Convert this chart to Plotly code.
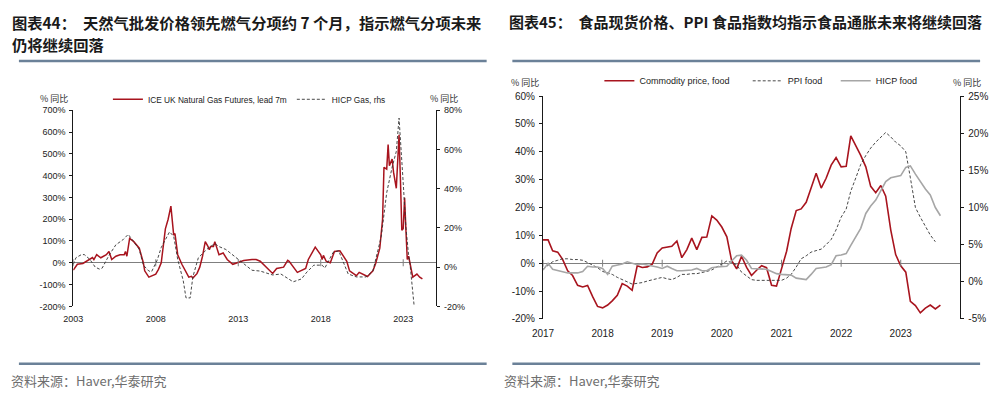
import plotly.graph_objects as go
import pandas as pd

# ---------------- Left panel data (Chart 44) ----------------
gas_fut_dates = ["2003-01","2003-04","2003-08","2004-01","2004-03","2004-04","2004-06","2004-09","2005-01","2005-03",
                 "2005-05","2005-08","2005-11","2006-02","2006-03","2006-04","2006-06","2006-09","2007-01","2007-04",
                 "2007-05","2007-08","2008-01","2008-03","2008-05","2008-08","2008-10","2008-12","2009-02","2009-03",
                 "2009-05","2009-08","2010-01","2010-03","2010-04","2010-07","2010-09","2010-11","2011-01","2011-03",
                 "2011-04","2011-05","2011-07","2011-08","2011-11","2012-02","2012-05","2012-09","2013-01","2013-05",
                 "2013-11","2014-02","2014-05","2015-02","2015-05","2015-10","2016-01","2016-02","2016-08","2017-02",
                 "2017-04","2017-09","2018-01","2018-02","2018-03","2018-05","2018-08","2018-11","2019-03","2019-08",
                 "2019-10","2020-03","2020-05","2020-08","2020-11","2021-03","2021-05","2021-08","2021-10","2021-11",
                 "2022-01","2022-02","2022-03","2022-05","2022-06","2022-08","2022-10","2022-11","2022-12","2023-01",
                 "2023-02","2023-03","2023-04","2023-05","2023-06","2023-08","2023-11","2024-01","2024-03"]
gas_fut_vals = [-34,-7,-3,15,24,15,37,23,37,52,
                15,30,37,37,52,30,112,97,67,0,
                -37,-66,-52,-30,0,156,200,260,127,134,
                37,-7,-66,-62,-70,-50,-20,30,97,75,
                60,75,75,97,37,45,15,-7,0,10,
                15,15,7,-49,-26,-20,11,7,-44,-26,
                15,72,37,15,34,7,0,52,55,7,
                -37,-59,-44,-52,-63,-37,-3,67,200,438,
                430,543,446,476,416,342,587,380,149,156,
                298,156,15,30,-7,-66,-52,-66,-74]

hicp_gas_dates = ["2003-01","2003-03","2003-07","2003-09","2004-01","2004-05","2004-08","2004-10","2005-03","2005-08",
                  "2006-01","2006-05","2006-09","2007-01","2007-04","2007-08","2007-10","2008-02","2008-05","2008-09",
                  "2008-11","2009-02","2009-05","2009-09","2009-11","2010-02","2010-04","2010-08","2011-01","2011-03",
                  "2011-08","2011-11","2012-04","2012-11","2013-06","2013-11","2014-05","2015-02","2015-08","2016-05",
                  "2016-11","2017-03","2017-08","2018-02","2018-04","2018-10","2019-02","2019-05","2019-09","2020-03",
                  "2020-10","2021-03","2021-06","2021-09","2022-01","2022-05","2022-08","2022-10","2023-01","2023-03",
                  "2023-05","2023-06","2023-09"]
hicp_gas_vals = [1.4,4.8,6.4,6.4,4.0,0.0,-1.0,-0.5,6.0,11.4,
                 13.9,16.7,13.0,9.0,1.0,-2.0,-2.3,3.5,10.0,15.7,
                 18.0,15.7,4.0,-7.0,-15.7,-15.7,-5.0,4.8,8.0,9.6,
                 12.0,10.5,9.0,5.0,0.8,-1.6,-2.0,-4.0,-3.5,-7.5,
                 -6.0,-2.5,1.0,1.0,-0.5,7.5,8.4,3.0,-3.5,-5.0,
                 -5.0,-2.0,7.5,15.5,38.0,51.0,59.0,76.0,43.0,20.5,
                 6.0,1.5,-20.0]

left_xticks = ["2003", "2008", "2013", "2018", "2023"]
left_yticks = [-200, -100, 0, 100, 200, 300, 400, 500, 600, 700]
left_y2ticks = [-20, 0, 20, 40, 60, 80]

# ---------------- Right panel data (Chart 45) ----------------
food_start = "2017-01-01"
commodity_food = [8.4, 8.4, 4.5, 4.0, 1.4, -2.7, -4.4, -7.9, -8.5, -8.0, -12.0, -15.5,
                  -16.0, -15.0, -13.5, -11.5, -7.3, -8.2, -9.7, -0.9, -1.5, -1.3, -0.3, 3.7,
                  5.5, 5.8, 6.1, 8.0, 2.0, 4.9, 9.0, 4.9, 9.3, 9.4, 17.0, 15.5,
                  13.0, 9.5, 1.0, -2.0, 2.5, -1.5, -4.4, -2.5, -0.9, -1.6, -7.9, -8.2,
                  -1.5, 4.3, 12.5, 18.9, 19.5, 21.9, 27.0, 32.3, 27.0, 30.5, 35.2, 37.9,
                  34.6, 34.8, 45.7, 42.2, 38.7, 34.6, 27.6, 25.3, 27.9, 24.1, 11.9, 3.1,
                  -0.9, -3.2, -13.7, -15.2, -17.8, -16.1, -15.0, -16.4, -15.0]
ppi_food = [1.7, 2.2, 2.7, 2.9, 3.1, 3.1, 3.0, 3.0, 2.9, 2.6, 2.3, 1.9,
            1.4, 1.2, 1.0, 0.6, 0.3, 0.0, -0.3, -0.2, -0.1, 0.1, 0.3, 0.5,
            0.6, 0.4, 0.3, 0.6, 1.0, 1.0, 1.1, 1.1, 1.2, 1.4, 1.6, 2.0,
            2.5, 2.8, 2.6, 2.3, 1.3, 0.8, 0.3, 0.2, 0.2, 0.1, 0.1, 0.1,
            0.2, 0.5, 1.0, 2.0, 3.1, 3.5, 4.0, 4.2, 4.4, 5.0, 5.7, 7.0,
            8.7, 9.8, 12.2, 14.0, 15.8, 17.0, 18.0, 18.8, 19.5, 20.1, 19.5, 18.8,
            18.3, 17.5, 14.0, 10.0, 8.7, 7.4, 6.3, 5.4]
hicp_food = [1.6, 2.5, 1.7, 1.5, 1.3, 1.2, 1.2, 1.2, 1.4, 2.1, 2.0, 2.0,
             1.8, 1.0, 2.1, 2.2, 2.4, 2.7, 2.5, 2.3, 2.4, 2.3, 2.1, 2.0,
             1.8, 2.1, 1.8, 1.5, 1.5, 1.5, 1.6, 1.8, 1.5, 1.5, 1.9, 2.0,
             2.0, 2.1, 2.8, 3.5, 3.6, 2.9, 1.8, 1.8, 1.7, 1.7, 1.4, 1.1,
             1.0, 0.9, 0.9, 0.5, 0.4, 0.3, 1.0, 1.8, 1.9, 2.0, 2.3, 3.5,
             3.6, 3.8, 4.9, 6.0, 7.2, 9.2, 10.2, 11.0, 12.3, 13.5, 14.0, 14.1,
             14.3, 15.4, 15.6, 14.5, 13.5, 12.5, 11.7, 10.0, 8.9]

right_xticks = ["2017", "2018", "2019", "2020", "2021", "2022", "2023"]
right_yticks = [-20, -10, 0, 10, 20, 30, 40, 50, 60]
right_y2ticks = [-5, 0, 5, 10, 15, 20, 25]

# ---------------- Styling ----------------
W, H = 989, 394
RED = "#A8141E"
DASH = "#333333"
GREY = "#A6A6A6"
AXC = "#1a1a1a"
SEP = "#6B8198"
FONT = "Liberation Sans, Arial, sans-serif"
CJK = "Noto Sans CJK SC"

def px(x):
    return x / W

def py(y):
    return 1 - y / H

def dates_monthly(start, n):
    return pd.date_range(start, periods=n, freq="MS")

fig = go.Figure()

# Left panel traces
fig.add_trace(go.Scatter(x=gas_fut_dates, y=gas_fut_vals, mode="lines",
                         line=dict(color=RED, width=1.5), name="ICE UK Natural Gas Futures, lead 7m",
                         xaxis="x", yaxis="y", legend="legend", hoverinfo="skip"))
fig.add_trace(go.Scatter(x=hicp_gas_dates, y=hicp_gas_vals, mode="lines",
                         line=dict(color=DASH, width=0.9, dash="3px,2px"), name="HICP Gas, rhs",
                         xaxis="x", yaxis="y2", legend="legend2", hoverinfo="skip"))
fig.add_trace(go.Scatter(x=[t + "-01-01" for t in left_xticks], y=[0] * len(left_xticks), mode="markers",
                         marker=dict(symbol="line-ns", size=5, line=dict(color="#7f7f7f", width=1)),
                         showlegend=False, xaxis="x", yaxis="y", hoverinfo="skip"))

# Right panel traces
fig.add_trace(go.Scatter(x=dates_monthly(food_start, len(commodity_food)), y=commodity_food, mode="lines",
                         line=dict(color=RED, width=1.6), name="Commodity price, food",
                         xaxis="x2", yaxis="y3", legend="legend3", hoverinfo="skip"))
fig.add_trace(go.Scatter(x=dates_monthly(food_start, len(ppi_food)), y=ppi_food, mode="lines",
                         line=dict(color=DASH, width=0.9, dash="3px,2px"), name="PPI food",
                         xaxis="x2", yaxis="y4", legend="legend4", hoverinfo="skip"))
fig.add_trace(go.Scatter(x=dates_monthly(food_start, len(hicp_food)), y=hicp_food, mode="lines",
                         line=dict(color=GREY, width=1.6), name="HICP food",
                         xaxis="x2", yaxis="y4", legend="legend5", hoverinfo="skip"))
fig.add_trace(go.Scatter(x=[t + "-01-01" for t in right_xticks], y=[0] * len(right_xticks), mode="markers",
                         marker=dict(symbol="line-ns", size=5, line=dict(color="#7f7f7f", width=1)),
                         showlegend=False, xaxis="x2", yaxis="y3", hoverinfo="skip"))

tickfont_l = dict(family=FONT, size=9, color="#222")
tickfont_r = dict(family=FONT, size=10, color="#222")

def yax(domain, rng, ticks, tf, **kw):
    d = dict(domain=domain, range=rng, tickvals=ticks, ticktext=[f"{t}%" for t in ticks],
             showline=True, linecolor=AXC, linewidth=1, ticks="outside", ticklen=3, tickcolor=AXC,
             showgrid=False, zeroline=False, tickfont=tf, fixedrange=True, ticklabelstandoff=2)
    d.update(kw)
    return d

ldom = [py(310), py(108.3)]
rdom = [py(323), py(93.7)]

fig.update_layout(
    width=W, height=H, margin=dict(l=0, r=0, t=0, b=0),
    paper_bgcolor="white", plot_bgcolor="white",
    xaxis=dict(domain=[px(63), px(430)], type="date", range=["2003-01-01", "2025-01-01"],
               tickvals=[t + "-01-01" for t in left_xticks], ticktext=left_xticks,
               showline=False, showgrid=False, zeroline=False, ticks="", tickfont=tickfont_l,
               anchor="y", fixedrange=True, ticklabelstandoff=6),
    yaxis=yax(ldom, [-200, 700], left_yticks, tickfont_l, anchor="x",
              zeroline=True, zerolinecolor="#7f7f7f", zerolinewidth=1),
    yaxis2=yax(ldom, [-20, 80], left_y2ticks, tickfont_l, anchor="x", overlaying="y", side="right"),
    xaxis2=dict(domain=[px(538), px(960)], type="date", range=["2017-01-01", "2024-01-01"],
                tickvals=[t + "-01-01" for t in right_xticks], ticktext=right_xticks,
                showline=False, showgrid=False, zeroline=False, ticks="", tickfont=tickfont_r,
                anchor="y3", fixedrange=True, ticklabelstandoff=7),
    yaxis3=yax(rdom, [-20, 60], right_yticks, tickfont_r, anchor="x2",
               zeroline=True, zerolinecolor="#7f7f7f", zerolinewidth=1),
    yaxis4=yax(rdom, [-5, 25], right_y2ticks, tickfont_r, anchor="x2", overlaying="y3", side="right"),
    showlegend=True,
)

def leg(x_text, y_center, size):
    return dict(x=px(x_text - 51), y=py(y_center), xanchor="left", yanchor="middle",
                orientation="h", bgcolor="rgba(0,0,0,0)", borderwidth=0, itemwidth=30,
                font=dict(family=FONT, size=size, color="#222"), tracegroupgap=0)

fig.update_layout(
    legend=leg(149, 97, 8.3),
    legend2=leg(335, 97, 8.3),
    legend3=leg(646, 78, 9),
    legend4=leg(796, 78, 9),
    legend5=leg(885, 78, 9),
)

annotations = []
def txt(x, y, s, size, color="#1a1a1a", family=CJK):
    annotations.append(dict(x=px(x), y=py(y), xref="paper", yref="paper", text=s, showarrow=False,
                            xanchor="left", yanchor="middle", align="left",
                            font=dict(family=family, size=size, color=color)))

# titles / source lines (positions tuned to rendered glyph placement)
txt(-1, 17, "<b>图表44：  天然气批发价格领先燃气分项约 7 个月，指示燃气分项未来</b>", 15.3)
txt(-1, 40, "<b>仍将继续回落</b>", 15.3)
txt(502, 17, "<b>图表45：  食品现货价格、PPI 食品指数均指示食品通胀未来将继续回落</b>", 15)
txt(-2, 386, "资料来源：Haver,华泰研究", 13, color="#6e6e6e")
txt(497, 386, "资料来源：Haver,华泰研究", 13, color="#6e6e6e")
# axis unit labels
txt(27, 96, "% 同比", 9, color="#333")
txt(422, 96, "% 同比", 9, color="#333")
txt(504, 80, "% 同比", 9, color="#333")
txt(951, 80, "% 同比", 9, color="#333")

shapes = []
for (x0, x1) in [(8, 481), (507, 980)]:
    for y in (57.5, 369):
        shapes.append(dict(type="line", xref="paper", yref="paper", x0=px(x0), x1=px(x1),
                           y0=py(y), y1=py(y), line=dict(color=SEP, width=2.5)))

fig.update_layout(annotations=annotations, shapes=shapes)

fig.write_html("out.html", config={"displayModeBar": False},
               post_script="document.body.style.margin='0';")
